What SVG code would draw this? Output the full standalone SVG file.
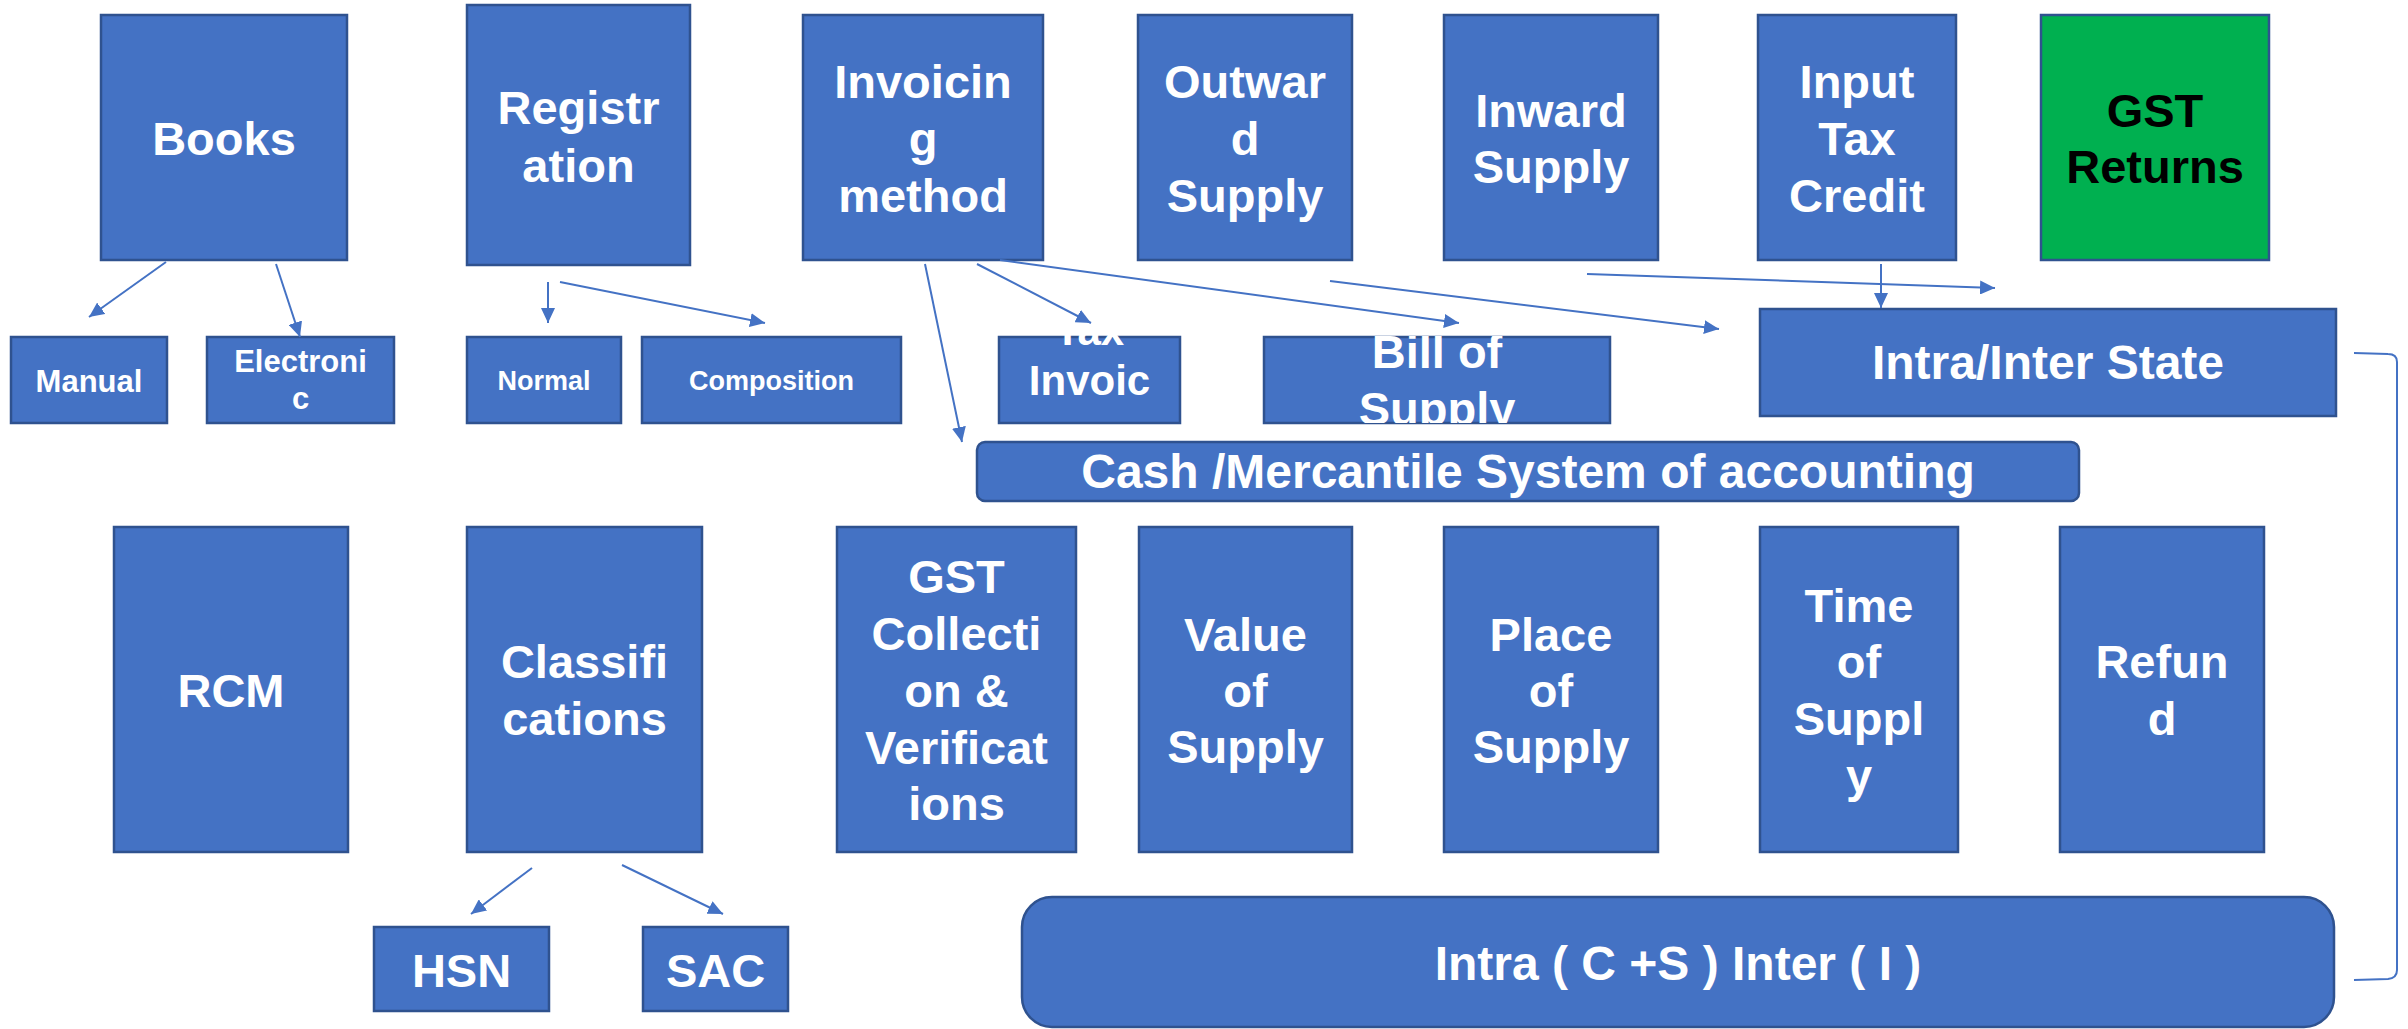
<svg xmlns="http://www.w3.org/2000/svg" width="2408" height="1029" viewBox="0 0 2408 1029">
<style>
.box{fill:#4472C4;stroke:#2F528F;stroke-width:2.5}
.green{fill:#00B050;stroke:#2F528F;stroke-width:2.5}
.t{font-family:"Liberation Sans",Arial,sans-serif;font-weight:bold;fill:#FFFFFF;text-anchor:middle;font-size:47px}
.tb{fill:#000000}
.s31{font-size:31px}
.s27{font-size:27px}
.s42{font-size:42px}
.s48{font-size:48px}
.c{fill:none;stroke:#4472C4;stroke-width:2}
</style>
<defs>
<marker id="ah" markerUnits="userSpaceOnUse" markerWidth="16" markerHeight="14" refX="15" refY="7" orient="auto">
<path d="M0,0 L15,7 L0,14 Z" fill="#4472C4"/>
</marker>
<clipPath id="clipTax"><rect x="999" y="333" width="181" height="90"/></clipPath>
<clipPath id="clipBill"><rect x="1264" y="336" width="346" height="87"/></clipPath>
</defs>

<g id="books"><rect class="box" x="101" y="15" width="246" height="245"/><text class="t" x="224" y="155">Books</text></g>
<g id="registration"><rect class="box" x="467" y="5" width="223" height="260"/><text class="t" x="578.5"><tspan x="578.5" y="124">Registr</tspan><tspan x="578.5" y="182">ation</tspan></text></g>
<g id="invoicing"><rect class="box" x="803" y="15" width="240" height="245"/><text class="t"><tspan x="923" y="98">Invoicin</tspan><tspan x="923" y="155">g</tspan><tspan x="923" y="212">method</tspan></text></g>
<g id="outward"><rect class="box" x="1138" y="15" width="214" height="245"/><text class="t"><tspan x="1245" y="98">Outwar</tspan><tspan x="1245" y="155">d</tspan><tspan x="1245" y="212">Supply</tspan></text></g>
<g id="inward"><rect class="box" x="1444" y="15" width="214" height="245"/><text class="t"><tspan x="1551" y="127">Inward</tspan><tspan x="1551" y="183">Supply</tspan></text></g>
<g id="itc"><rect class="box" x="1758" y="15" width="198" height="245"/><text class="t"><tspan x="1857" y="98">Input</tspan><tspan x="1857" y="155">Tax</tspan><tspan x="1857" y="212">Credit</tspan></text></g>
<g id="gstreturns"><rect class="green" x="2041" y="15" width="228" height="245"/><text class="t tb"><tspan x="2155" y="127">GST</tspan><tspan x="2155" y="183">Returns</tspan></text></g>

<g id="manual"><rect class="box" x="11" y="337" width="156" height="86"/><text class="t s31" x="89" y="392">Manual</text></g>
<g id="electronic"><rect class="box" x="207" y="337" width="187" height="86"/><text class="t s31"><tspan x="300.5" y="372">Electroni</tspan><tspan x="300.5" y="409">c</tspan></text></g>
<g id="normal"><rect class="box" x="467" y="337" width="154" height="86"/><text class="t s27" x="544" y="390">Normal</text></g>
<g id="composition"><rect class="box" x="642" y="337" width="259" height="86"/><text class="t s27" x="771.5" y="390">Composition</text></g>
<g id="taxinvoice"><rect class="box" x="999" y="337" width="181" height="86"/><text class="t s42" clip-path="url(#clipTax)"><tspan x="1089.5" y="345">Tax</tspan><tspan x="1089.5" y="395">Invoic</tspan></text></g>
<g id="billofsupply"><rect class="box" x="1264" y="337" width="346" height="86"/><text class="t" clip-path="url(#clipBill)"><tspan x="1437" y="368">Bill of</tspan><tspan x="1437" y="425">Supply</tspan></text></g>
<g id="intrainterstate"><rect class="box" x="1760" y="309" width="576" height="107"/><text class="t s48" x="2048" y="379">Intra/Inter State</text></g>
<g id="cashmercantile"><rect class="box" x="977" y="442" width="1102" height="59" rx="8"/><text class="t s48" x="1528" y="488">Cash /Mercantile System of accounting</text></g>

<g id="rcm"><rect class="box" x="114" y="527" width="234" height="325"/><text class="t" x="231" y="707">RCM</text></g>
<g id="classifications"><rect class="box" x="467" y="527" width="235" height="325"/><text class="t"><tspan x="584.5" y="678">Classifi</tspan><tspan x="584.5" y="735">cations</tspan></text></g>
<g id="gstcollection"><rect class="box" x="837" y="527" width="239" height="325"/><text class="t"><tspan x="956.5" y="593">GST</tspan><tspan x="956.5" y="650">Collecti</tspan><tspan x="956.5" y="707">on &amp;</tspan><tspan x="956.5" y="764">Verificat</tspan><tspan x="956.5" y="820">ions</tspan></text></g>
<g id="valueofsupply"><rect class="box" x="1139" y="527" width="213" height="325"/><text class="t"><tspan x="1245.5" y="651">Value</tspan><tspan x="1245.5" y="707">of</tspan><tspan x="1245.5" y="763">Supply</tspan></text></g>
<g id="placeofsupply"><rect class="box" x="1444" y="527" width="214" height="325"/><text class="t"><tspan x="1551" y="651">Place</tspan><tspan x="1551" y="707">of</tspan><tspan x="1551" y="763">Supply</tspan></text></g>
<g id="timeofsupply"><rect class="box" x="1760" y="527" width="198" height="325"/><text class="t"><tspan x="1859" y="622">Time</tspan><tspan x="1859" y="678">of</tspan><tspan x="1859" y="735">Suppl</tspan><tspan x="1859" y="792">y</tspan></text></g>
<g id="refund"><rect class="box" x="2060" y="527" width="204" height="325"/><text class="t"><tspan x="2162" y="678">Refun</tspan><tspan x="2162" y="735">d</tspan></text></g>

<g id="hsn"><rect class="box" x="374" y="927" width="175" height="84"/><text class="t" x="461.5" y="987">HSN</text></g>
<g id="sac"><rect class="box" x="643" y="927" width="145" height="84"/><text class="t" x="715.5" y="987">SAC</text></g>
<g id="intracs"><rect class="box" x="1022" y="897" width="1312" height="130" rx="30"/><text class="t s48" x="1678" y="980">Intra ( C +S ) Inter ( I )</text></g>

<g id="connectors">
<line class="c" x1="166" y1="262" x2="89" y2="317" marker-end="url(#ah)"/>
<line class="c" x1="276" y1="264" x2="300" y2="337" marker-end="url(#ah)"/>
<line class="c" x1="548" y1="282" x2="548" y2="323" marker-end="url(#ah)"/>
<line class="c" x1="560" y1="282" x2="765" y2="323" marker-end="url(#ah)"/>
<line class="c" x1="925" y1="264" x2="962" y2="442" marker-end="url(#ah)"/>
<line class="c" x1="977" y1="264" x2="1091" y2="323" marker-end="url(#ah)"/>
<line class="c" x1="1000" y1="260" x2="1459" y2="323" marker-end="url(#ah)"/>
<line class="c" x1="1330" y1="281" x2="1719" y2="329" marker-end="url(#ah)"/>
<line class="c" x1="1587" y1="274" x2="1995" y2="288" marker-end="url(#ah)"/>
<line class="c" x1="1881" y1="264" x2="1881" y2="308" marker-end="url(#ah)"/>
<line class="c" x1="532" y1="868" x2="471" y2="914" marker-end="url(#ah)"/>
<line class="c" x1="622" y1="865" x2="723" y2="914" marker-end="url(#ah)"/>
<path class="c" d="M2354,353 L2388,354 Q2397,354 2397,362 L2397,970 Q2397,978 2388,979 L2354,980"/>
</g>
</svg>
